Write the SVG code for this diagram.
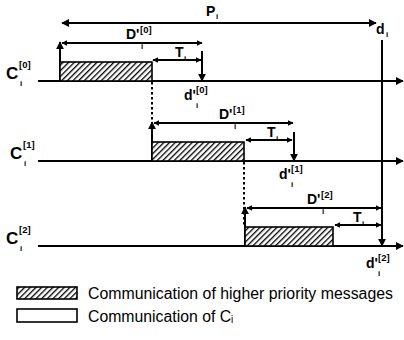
<svg xmlns="http://www.w3.org/2000/svg" width="404" height="340" viewBox="0 0 404 340">
<style>
.ln{stroke:#000;stroke-width:2;fill:none}
.dot{stroke:#000;stroke-width:2;stroke-dasharray:2.5,2.5;fill:none}
.hat{fill:url(#hatch);stroke:#000;stroke-width:1.6}
.box{fill:#fff;stroke:#000;stroke-width:1.6}
.t{font-family:"Liberation Sans",Arial,sans-serif;font-weight:bold;fill:#000}
.big{font-size:17px}
.lab{font-size:14px}
.sup{font-size:9.5px}
.sub{font-size:8px}
.leg{font-family:"Liberation Sans",Arial,sans-serif;font-size:15.8px;fill:#000}
</style>
<defs>
<pattern id="hatch" patternUnits="userSpaceOnUse" width="4" height="4" patternTransform="rotate(45)">
<rect width="4" height="4" fill="#fff"/>
<line x1="0" y1="0" x2="0" y2="4" stroke="#000" stroke-width="2.6"/>
</pattern>
<marker id="ah" viewBox="0 0 10 10" refX="9" refY="5" markerWidth="8" markerHeight="8" markerUnits="userSpaceOnUse" orient="auto-start-reverse">
<path d="M0,0 L10,5 L0,10 Z" fill="#000"/>
</marker>
<marker id="as" viewBox="0 0 10 10" refX="9" refY="5" markerWidth="6" markerHeight="6" markerUnits="userSpaceOnUse" orient="auto-start-reverse">
<path d="M0,0 L10,5 L0,10 Z" fill="#000"/>
</marker>
</defs>

<g id="connectors">
<line class="ln" x1="62" y1="23" x2="376" y2="23" marker-start="url(#ah)" marker-end="url(#ah)"/>
<line class="ln" x1="382" y1="40" x2="382" y2="246" marker-end="url(#ah)"/>
<line class="ln" x1="38" y1="81" x2="403" y2="81" marker-end="url(#ah)"/>
<line class="ln" x1="38" y1="161" x2="403" y2="161" marker-end="url(#ah)"/>
<line class="ln" x1="38" y1="246" x2="403" y2="246" marker-end="url(#ah)"/>
<line class="ln" x1="60" y1="81" x2="60" y2="42" marker-end="url(#ah)"/>
<line class="ln" x1="62" y1="43" x2="202" y2="43" marker-start="url(#as)" marker-end="url(#as)"/>
<line class="ln" x1="153" y1="60" x2="201" y2="60" marker-start="url(#as)" marker-end="url(#as)"/>
<line class="ln" x1="202" y1="51" x2="202" y2="81" marker-end="url(#ah)"/>
<line class="dot" x1="152" y1="82" x2="152" y2="142"/>
<line class="ln" x1="152" y1="161" x2="152" y2="122" marker-end="url(#ah)"/>
<line class="ln" x1="154" y1="123" x2="293" y2="123" marker-start="url(#as)" marker-end="url(#as)"/>
<line class="ln" x1="246" y1="140" x2="292" y2="140" marker-start="url(#as)" marker-end="url(#as)"/>
<line class="ln" x1="294" y1="132" x2="294" y2="161" marker-end="url(#ah)"/>
<line class="dot" x1="244" y1="162" x2="244" y2="227"/>
<line class="ln" x1="245" y1="246" x2="245" y2="207" marker-end="url(#ah)"/>
<line class="ln" x1="247" y1="208" x2="381" y2="208" marker-start="url(#as)" marker-end="url(#as)"/>
<line class="ln" x1="335" y1="225" x2="381" y2="225" marker-start="url(#as)" marker-end="url(#as)"/>
</g>

<g id="blocks">
<rect class="hat" x="60" y="62" width="92" height="19"/>
<rect class="hat" x="152" y="142" width="92" height="19"/>
<rect class="hat" x="245" y="227" width="88" height="19"/>
</g>

<g id="labels">
<text class="t lab" x="206" y="16">P</text><text class="t sub" x="216" y="19">i</text>
<text class="t lab" x="376" y="34">d</text><text class="t sub" x="386" y="37">i</text>

<text class="t big" x="6" y="79">C</text><text class="t sup" x="19" y="68">[0]</text><text class="t sub" x="20" y="86">i</text>
<text class="t big" x="10" y="159">C</text><text class="t sup" x="23" y="148">[1]</text><text class="t sub" x="24" y="166">i</text>
<text class="t big" x="6" y="244">C</text><text class="t sup" x="19" y="233">[2]</text><text class="t sub" x="20" y="251">i</text>

<text class="t lab" x="126" y="39">D'</text><text class="t sup" x="140" y="33">[0]</text><text class="t sub" x="141" y="49">i</text>
<text class="t lab" x="175" y="57">T</text><text class="t sub" x="184" y="61">i</text>
<text class="t lab" x="184" y="100">d'</text><text class="t sup" x="196" y="93">[0]</text><text class="t sub" x="196" y="108">i</text>

<text class="t lab" x="219" y="119">D'</text><text class="t sup" x="233" y="113">[1]</text><text class="t sub" x="234" y="129">i</text>
<text class="t lab" x="267" y="137">T</text><text class="t sub" x="276" y="141">i</text>
<text class="t lab" x="279" y="179">d'</text><text class="t sup" x="291" y="172">[1]</text><text class="t sub" x="291" y="187">i</text>

<text class="t lab" x="307" y="204">D'</text><text class="t sup" x="321" y="198">[2]</text><text class="t sub" x="322" y="214">i</text>
<text class="t lab" x="353" y="222">T</text><text class="t sub" x="362" y="226">i</text>
<text class="t lab" x="366" y="268">d'</text><text class="t sup" x="378" y="261">[2]</text><text class="t sub" x="378" y="276">i</text>
</g>

<g id="legend">
<rect class="hat" x="17" y="287" width="60" height="12"/>
<text class="leg" x="88" y="299" textLength="305" lengthAdjust="spacingAndGlyphs">Communication of higher priority messages</text>
<rect class="box" x="17" y="309" width="60" height="13"/>
<text class="leg" x="88" y="322">Communication of C<tspan font-size="10px" dy="1">i</tspan></text>
</g>
</svg>
